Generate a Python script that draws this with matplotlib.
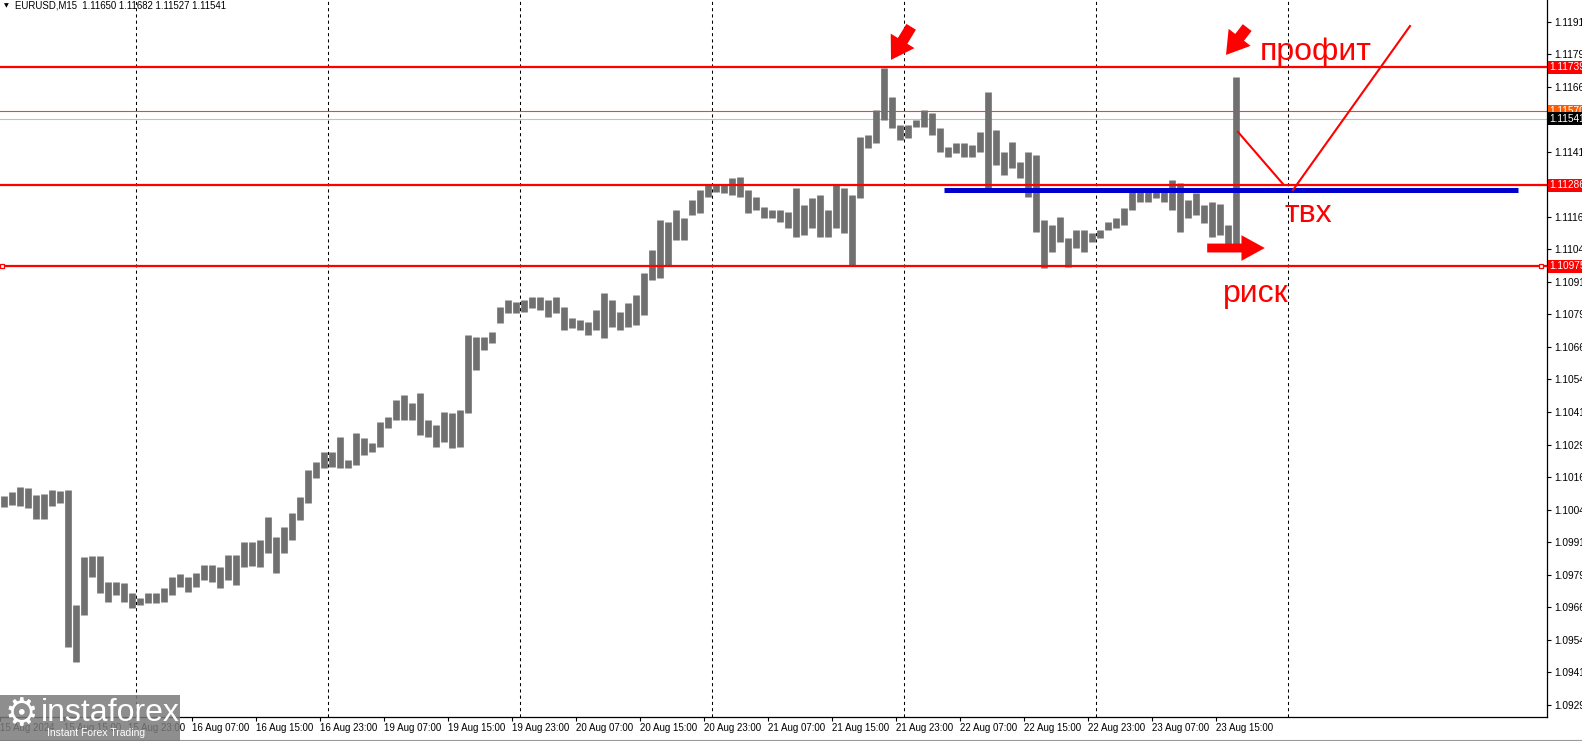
import numpy as np
import matplotlib
matplotlib.use("Agg")
import matplotlib.pyplot as plt
from matplotlib.patches import Rectangle
from matplotlib.lines import Line2D

plt.rcParams['font.family'] = ['Liberation Sans', 'DejaVu Sans']

# EURUSD M15, read back as hourly high/low; x = trading hours from 15 Aug 00:00 (weekend skipped)
hours = np.arange(7, 162)
highs = [1.10092, 1.10108, 1.10127, 1.10123, 1.10096, 1.10100, 1.10115, 1.10112, 1.10115, 1.09674,
         1.09858, 1.09862, 1.09862, 1.09762, 1.09762, 1.09758, 1.09720, 1.09701, 1.09720, 1.09720,
         1.09739, 1.09781, 1.09793, 1.09781, 1.09797, 1.09827, 1.09827, 1.09820, 1.09866, 1.09866,
         1.09916, 1.09916, 1.09923, 1.10012, 1.09935, 1.09973, 1.10027, 1.10089, 1.10192, 1.10223,
         1.10261, 1.10261, 1.10319, 1.10231, 1.10334, 1.10315, 1.10296, 1.10377, 1.10396, 1.10461,
         1.10480, 1.10450, 1.10488, 1.10384, 1.10365, 1.10415, 1.10411, 1.10423, 1.10711, 1.10703,
         1.10703, 1.10722, 1.10818, 1.10846, 1.10838, 1.10846, 1.10858, 1.10858, 1.10846, 1.10858,
         1.10819, 1.10777, 1.10769, 1.10762, 1.10808, 1.10873, 1.10846, 1.10800, 1.10834, 1.10865,
         1.10950, 1.11038, 1.11153, 1.11146, 1.11192, 1.11161, 1.11230, 1.11268, 1.11288, 1.11288,
         1.11288, 1.11314, 1.11318, 1.11268, 1.11242, 1.11203, 1.11192, 1.11192, 1.11184, 1.11276,
         1.11211, 1.11238, 1.11249, 1.11192, 1.11288, 1.11276, 1.11249, 1.11472, 1.11480, 1.11576,
         1.11737, 1.11626, 1.11518, 1.11518, 1.11537, 1.11576, 1.11564, 1.11506, 1.11434, 1.11449,
         1.11449, 1.11441, 1.11491, 1.11645, 1.11499, 1.11414, 1.11453, 1.11376, 1.11414, 1.11403,
         1.11153, 1.11134, 1.11165, 1.11084, 1.11115, 1.11115, 1.11103, 1.11115, 1.11146, 1.11161,
         1.11199, 1.11276, 1.11276, 1.11268, 1.11276, 1.11276, 1.11307, 1.11295, 1.11230, 1.11257,
         1.11211, 1.11222, 1.11215, 1.11134, 1.11702]
lows = [1.10050, 1.10058, 1.10054, 1.10046, 1.10004, 1.10004, 1.10054, 1.10065, 1.09513, 1.09455,
        1.09635, 1.09781, 1.09720, 1.09685, 1.09712, 1.09685, 1.09662, 1.09674, 1.09681, 1.09681,
        1.09685, 1.09712, 1.09743, 1.09724, 1.09743, 1.09770, 1.09762, 1.09739, 1.09770, 1.09751,
        1.09820, 1.09824, 1.09820, 1.09873, 1.09797, 1.09873, 1.09923, 1.10000, 1.10065, 1.10161,
        1.10200, 1.10204, 1.10200, 1.10200, 1.10211, 1.10250, 1.10261, 1.10281, 1.10354, 1.10384,
        1.10384, 1.10384, 1.10327, 1.10319, 1.10281, 1.10300, 1.10277, 1.10281, 1.10411, 1.10576,
        1.10653, 1.10680, 1.10757, 1.10796, 1.10796, 1.10800, 1.10815, 1.10808, 1.10781, 1.10796,
        1.10731, 1.10738, 1.10731, 1.10712, 1.10731, 1.10700, 1.10742, 1.10731, 1.10742, 1.10750,
        1.10788, 1.10923, 1.10930, 1.10980, 1.11076, 1.11076, 1.11172, 1.11180, 1.11242, 1.11261,
        1.11257, 1.11249, 1.11242, 1.11180, 1.11192, 1.11161, 1.11161, 1.11146, 1.11122, 1.11088,
        1.11096, 1.11122, 1.11088, 1.11088, 1.11122, 1.11103, 1.10977, 1.11238, 1.11430, 1.11449,
        1.11537, 1.11506, 1.11460, 1.11468, 1.11510, 1.11510, 1.11480, 1.11414, 1.11395, 1.11410,
        1.11395, 1.11395, 1.11414, 1.11261, 1.11364, 1.11326, 1.11353, 1.11314, 1.11242, 1.11107,
        1.10969, 1.11030, 1.11069, 1.10973, 1.11046, 1.11030, 1.11069, 1.11084, 1.11115, 1.11122,
        1.11134, 1.11192, 1.11222, 1.11222, 1.11238, 1.11222, 1.11192, 1.11107, 1.11161, 1.11172,
        1.11142, 1.11088, 1.11096, 1.11050, 1.11050]

levels_red = [1.11739, 1.11286, 1.10975]
level_orange = 1.11570
level_bid = 1.11541
blue_level = 1.11267
blue_span = [125.0, 196.75]

day_starts = [24, 48, 72, 96, 120, 144, 168]
xtick_hours = [7, 15, 23, 31, 39, 47, 55, 63, 71, 79, 87, 95, 103, 111, 119, 127, 135, 143, 151, 159]
xtick_labels = ['15 Aug 2024', '15 Aug 15:00', '15 Aug 23:00', '16 Aug 07:00', '16 Aug 15:00',
                '16 Aug 23:00', '19 Aug 07:00', '19 Aug 15:00', '19 Aug 23:00', '20 Aug 07:00',
                '20 Aug 15:00', '20 Aug 23:00', '21 Aug 07:00', '21 Aug 15:00', '21 Aug 23:00',
                '22 Aug 07:00', '22 Aug 15:00', '22 Aug 23:00', '23 Aug 07:00', '23 Aug 15:00']
yticks = [1.09290, 1.09415, 1.09540, 1.09665, 1.09790, 1.09915, 1.10040, 1.10165, 1.10290, 1.10415,
          1.10540, 1.10665, 1.10790, 1.10915, 1.11040, 1.11165, 1.11290, 1.11415, 1.11540, 1.11665,
          1.11790, 1.11915]

fig = plt.figure(figsize=(15.82, 7.41), dpi=100)
ax = fig.add_axes([0, 24 / 741, 1547 / 1582, 717 / 741])
ax.set_xlim(7, 200.375)
ax.set_ylim(1.09243, 1.11998)

for s in ['left', 'top']:
    ax.spines[s].set_visible(False)
for s in ['right', 'bottom']:
    ax.spines[s].set_linewidth(0.9)
    ax.spines[s].set_color('black')

# bars
ax.vlines(hours + 0.5, lows, highs, colors='#707070', linewidth=4.8, zorder=3)

# day separators
for d in day_starts:
    ax.axvline(d, color='black', lw=0.75, ls=(0, (3, 3)), zorder=1)

# horizontal levels
for lv in levels_red:
    ax.axhline(lv, color='#ff0000', lw=1.6, zorder=4)
ax.axhline(level_orange, color='#ff4500', lw=0.8, zorder=2)
ax.axhline(level_bid, color='#c0c0c0', lw=0.8, zorder=2)
ax.plot([7.3, 199.6], [levels_red[2]] * 2, 's', ms=3.2, mfc='white', mec='red', mew=0.9, zorder=5,
        clip_on=False)
ax.plot(blue_span, [blue_level] * 2, color='#0000cd', lw=3.6, solid_capstyle='butt', zorder=4)

# hand-drawn scenario lines
ax.plot([161.75, 167.375], [1.11491, 1.11291], color='red', lw=1.5, zorder=5)
ax.plot([168.625, 183.25], [1.11268, 1.11898], color='red', lw=1.5, zorder=5)

arrow_kw = dict(arrowstyle='simple,head_length=1.0,head_width=1.25,tail_width=0.5',
                color='red', lw=0, shrinkA=0, shrinkB=0)
ax.annotate('', xy=(118.375, 1.11768), xytext=(120.9, 1.11895),
            arrowprops=dict(arrow_kw, mutation_scale=16), zorder=6)
ax.annotate('', xy=(160.25, 1.11787), xytext=(162.9, 1.11892),
            arrowprops=dict(arrow_kw, mutation_scale=16), zorder=6)
ax.annotate('', xy=(165.1, 1.11045), xytext=(157.9, 1.11045),
            arrowprops=dict(arrowstyle='simple,head_length=1.05,head_width=1.15,tail_width=0.4',
                            color='red', lw=0, shrinkA=0, shrinkB=0, mutation_scale=16), zorder=6)

ax.text(164.5, 1.11768, 'профит', color='red', fontsize=23, va='baseline', ha='left', zorder=6)
ax.text(167.6, 1.11146, 'твх', color='red', fontsize=23, va='baseline', ha='left', zorder=6)
ax.text(159.9, 1.10838, 'риск', color='red', fontsize=23, va='baseline', ha='left', zorder=6)

# axes ticks
ax.yaxis.tick_right()
ax.set_yticks(yticks)
ax.set_yticklabels(['%.5f' % v for v in yticks], fontsize=7.3)
ax.tick_params(axis='y', direction='out', length=3, width=0.8, pad=2)
ax.set_xticks(xtick_hours)
ax.set_xticklabels(xtick_labels, fontsize=7, ha='left')
ax.tick_params(axis='x', direction='out', length=3, width=0.8, pad=1.5)

# price labels on right scale
ytr = ax.get_yaxis_transform()
for lv, fc in [(levels_red[0], '#ff0000'), (levels_red[1], '#ff0000'), (levels_red[2], '#ff0000'),
               (level_orange, '#ff5a00'), (level_bid, '#000000')]:
    ax.text(1.0015, lv, '%.5f' % lv, transform=ytr, color='white', fontsize=7.3, va='center',
            ha='left', clip_on=False, zorder=8,
            bbox=dict(boxstyle='square,pad=0.15', fc=fc, ec='none'))

# header
fig.text(4 / 1582, 1 - 6 / 741, '▼', fontsize=4.5, va='center', ha='left', family='DejaVu Sans')
fig.text(15 / 1582, 1 - 6 / 741, 'EURUSD,M15  1.11650 1.11682 1.11527 1.11541', fontsize=6.9,
         va='center', ha='left')

# bottom frame line
fig.add_artist(Line2D([0, 1], [1 / 741, 1 / 741], color='#9a9a9a', lw=0.8))

# watermark
fig.add_artist(Rectangle((0, 0), 180 / 1582, 46 / 741, transform=fig.transFigure,
                         facecolor='#7a7a7a', edgecolor='none', alpha=0.85, zorder=20))
fig.text(21 / 1582, 26 / 741, '⚙', fontsize=27, color='white', va='center', ha='center',
         family='DejaVu Sans', zorder=21)
fig.text(41 / 1582, 28 / 741, 'instaforex', fontsize=23, color='white', va='center', ha='left',
         zorder=21)
fig.text(47 / 1582, 8 / 741, 'Instant Forex Trading', fontsize=7.5, color='white', va='center',
         ha='left', zorder=21)

fig.savefig('out.png', dpi=100)
